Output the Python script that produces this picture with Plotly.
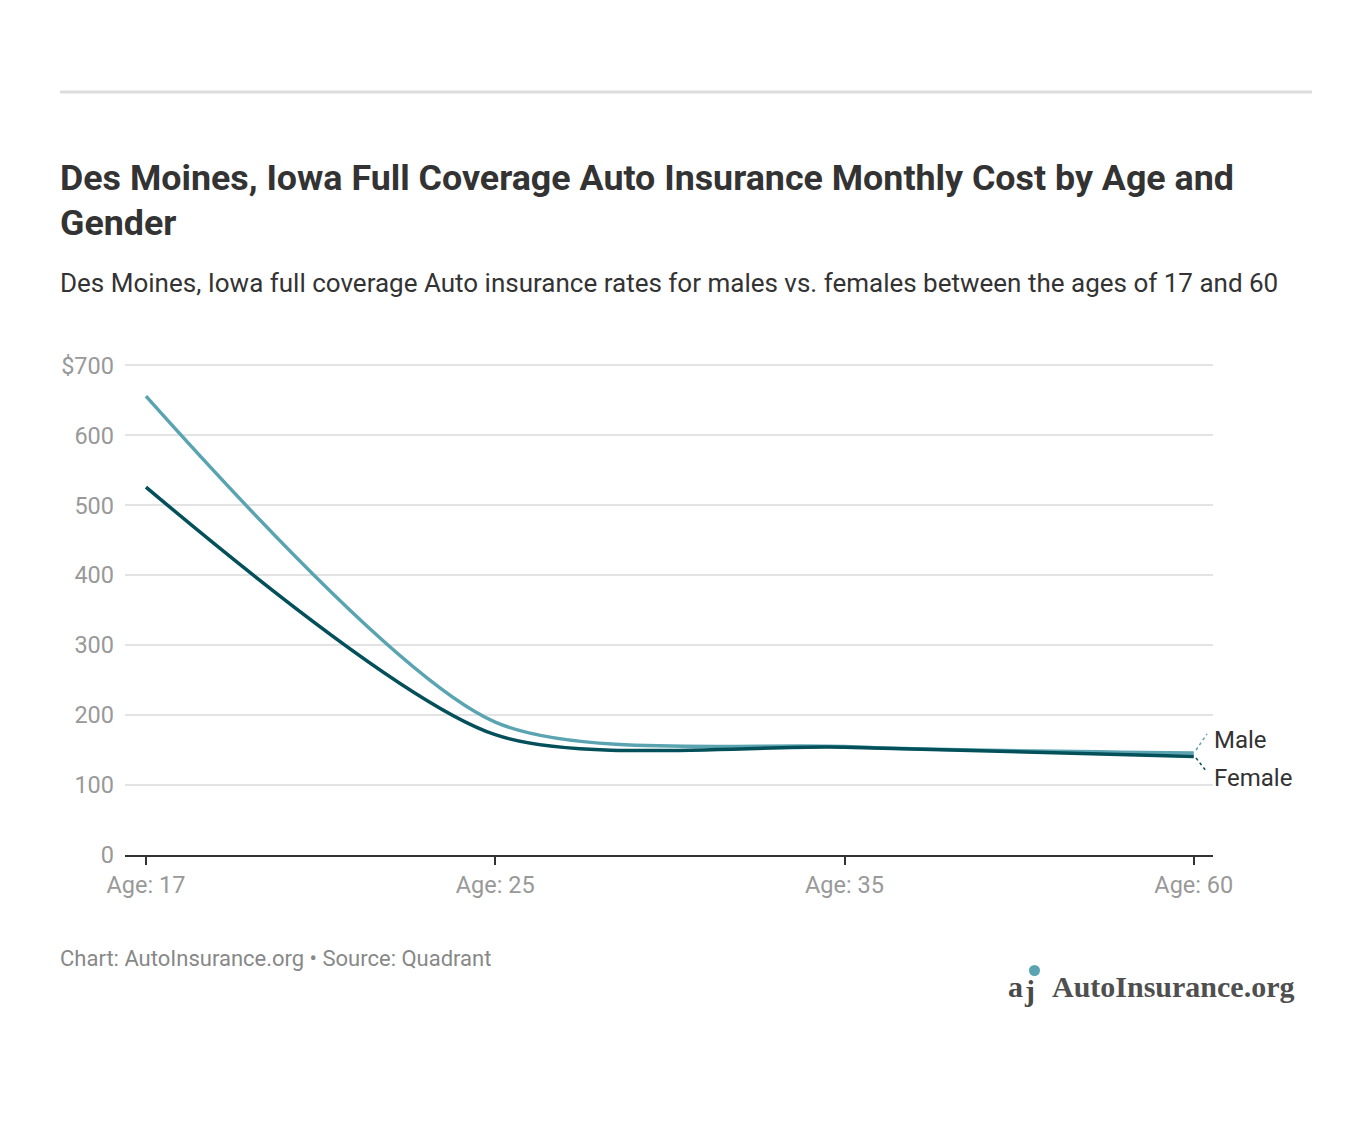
import plotly.graph_objects as go

categories = ["Age: 17", "Age: 25", "Age: 35", "Age: 60"]
male = [656, 190, 155, 146]
female = [526, 172, 154, 141]
y_ticks = [0, 100, 200, 300, 400, 500, 600, 700]
y_tick_labels = ["0", "100", "200", "300", "400", "500", "600", "$700"]

MALE_C = "#5aa4b1"
FEMALE_C = "#03505a"
OFF = 8  # page body margin
W, H = 1356, 1110
# plot area in page pixel coordinates
PL, PR, PT, PB = 125, 1213, 364, 855
L, R, T, B = PL - OFF, PR - OFF, PT - OFF, PB - OFF

fig = go.Figure()
fig.add_trace(go.Scatter(x=list(range(len(categories))), y=male, mode="lines",
                         line=dict(color=MALE_C, width=3.5, shape="spline", smoothing=0.75),
                         name="Male", hoverinfo="skip"))
fig.add_trace(go.Scatter(x=list(range(len(categories))), y=female, mode="lines",
                         line=dict(color=FEMALE_C, width=3.5, shape="spline", smoothing=0.75),
                         name="Female", hoverinfo="skip"))

fig.update_layout(
    width=W, height=H, showlegend=False,
    paper_bgcolor="white", plot_bgcolor="white",
    margin=dict(l=L, r=W - R, t=T, b=H - B, pad=0),
    font=dict(family="Roboto, sans-serif", color="#333"),
    xaxis=dict(range=[-0.06, 3.055], tickmode="array", tickvals=list(range(len(categories))),
               ticktext=categories, showgrid=False, zeroline=False,
               showline=True, linecolor="#333", linewidth=1.5,
               ticks="outside", ticklen=8, tickcolor="#333", tickwidth=1.5,
               tickfont=dict(size=23.5, color="#999", family="Roboto, sans-serif")),
    yaxis=dict(range=[0, 702], tickmode="array", tickvals=y_ticks, ticktext=y_tick_labels,
               showgrid=True, gridcolor="#e3e3e3", gridwidth=1.5, zeroline=False,
               showline=False, ticks="", ticklabelstandoff=10,
               tickfont=dict(size=23.5, color="#999", family="Roboto, sans-serif")),
)

def fx(px):
    return (px - PL) / (PR - PL)

def fy(py):
    return (PB - py) / (PB - PT)

# top rule
fig.add_shape(type="line", xref="paper", yref="paper",
              x0=fx(60), x1=fx(1312), y0=fy(92), y1=fy(92),
              line=dict(color="#dddddd", width=3))

def ann(text, x, y, size, color, xanchor="left", yanchor="middle", family="Roboto, sans-serif"):
    fig.add_annotation(text=text, xref="paper", yref="paper",
                       x=fx(x), y=fy(y),
                       xanchor=xanchor, yanchor=yanchor, showarrow=False,
                       font=dict(size=size, color=color, family=family), align="left")

ann("<b>Des Moines, Iowa Full Coverage Auto Insurance Monthly Cost by Age and</b>", 58, 178, 35.8, "#333")
ann("<b>Gender</b>", 58, 223, 35.8, "#333")
ann("Des Moines, Iowa full coverage Auto insurance rates for males vs. females between the ages of 17 and 60",
    58, 283, 26, "#333")
ann("Chart: AutoInsurance.org • Source: Quadrant", 58, 958, 22, "#888")

# end labels
ann("Male", 1212, 740, 24, "#333")
ann("Female", 1212, 778, 24, "#333")
fig.add_shape(type="line", xref="paper", yref="paper",
              x0=fx(1196), y0=fy(750), x1=fx(1207), y1=fy(734),
              line=dict(color=MALE_C, width=1.5, dash="dot"))
fig.add_shape(type="line", xref="paper", yref="paper",
              x0=fx(1196), y0=fy(758), x1=fx(1207), y1=fy(772),
              line=dict(color=FEMALE_C, width=1.5, dash="dot"))

# logo
fig.add_shape(type="circle", xref="paper", yref="paper",
              x0=fx(1029), x1=fx(1040), y0=fy(976), y1=fy(965),
              fillcolor="#5aa4b1", line=dict(width=0))
ann("<b>a</b>", 1006, 986, 30, "#4a4a4a", family="Liberation Serif, serif")
ann("<b>j</b>", 1022, 990, 30, "#4a4a4a", family="Liberation Serif, serif")
ann("<b>AutoInsurance.org</b>", 1050, 986, 30, "#4f4f4f", family="Liberation Serif, serif")

fig.write_html("out.html")
